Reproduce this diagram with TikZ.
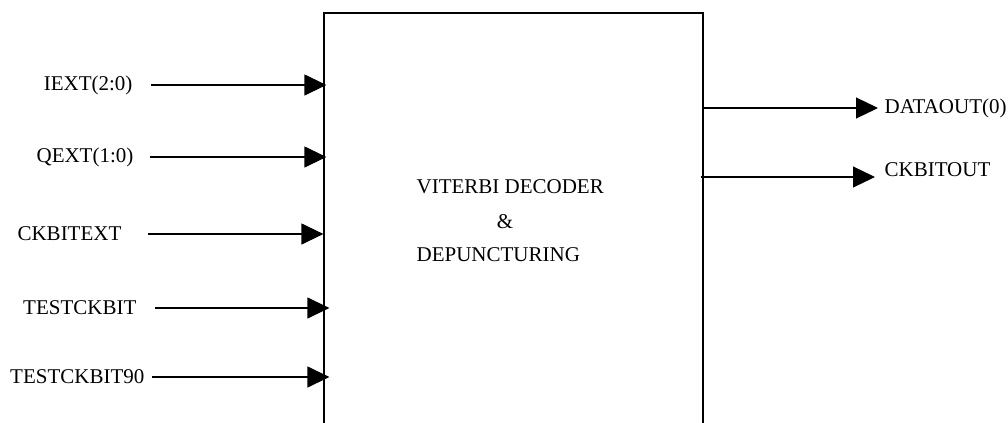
\documentclass[tikz,border=0pt]{standalone}
\usepackage{fontspec}
\setmainfont{Liberation Serif}
\usetikzlibrary{arrows.meta}

\begin{document}
\begin{tikzpicture}
  [x=0.5pt,y=-0.5pt,line width=0.6pt,
   every node/.style={font=\fontsize{10.5}{12}\selectfont,inner sep=0pt},
   sig/.style={-{Triangle[length=11pt,width=10.5pt]}}]
  \useasboundingbox (0,0) rectangle (1008,423);
  \clip (0,0) rectangle (1008,423);

  % decoder block
  \node[draw,minimum width=189.5pt,minimum height=213.5pt] (vd) at (513.5,226.5) {};
  \node[anchor=west] (t1) at (416,187) {VITERBI DECODER};
  \node (t2) at (505,222) {\&};
  \node[anchor=west] (t3) at (416,255) {DEPUNCTURING};

  % inputs
  \node[anchor=east] (iext) at (133,85)  {IEXT(2:0)};
  \node[anchor=east] (qext) at (134,157) {QEXT(1:0)};
  \node[anchor=east] (ckx)  at (122,234) {CKBITEXT};
  \node[anchor=east] (tck)  at (137,308) {TESTCKBIT};
  \node[anchor=east] (tck9) at (145,377) {TESTCKBIT90};

  \draw[sig] (iext.east) ++(18,0) -- ([xshift=1.5pt]iext -| vd.west);
  \draw[sig] (qext.east) ++(16,0) -- ([xshift=1.5pt]qext -| vd.west);
  \draw[sig] (ckx.east)  ++(26,0) -- ([xshift=0pt]ckx -| vd.west);
  \draw[sig] (tck.east)  ++(18,0) -- ([xshift=3pt]tck -| vd.west);
  \draw[sig] (tck9.east) ++(7,0)  -- ([xshift=3pt]tck9 -| vd.west);

  % outputs
  \node[anchor=west] (dout) at (884,108) {DATAOUT(0)};
  \node[anchor=west] (cko)  at (884,170) {CKBITOUT};

  \draw[sig] (vd.east |- dout) -- ([xshift=-3pt]dout.west);
  \draw[sig] ([xshift=-1.5pt,yshift=-3.5pt]vd.east |- cko) -- ([xshift=-4.5pt,yshift=-3.5pt]cko.west);
\end{tikzpicture}
\end{document}
